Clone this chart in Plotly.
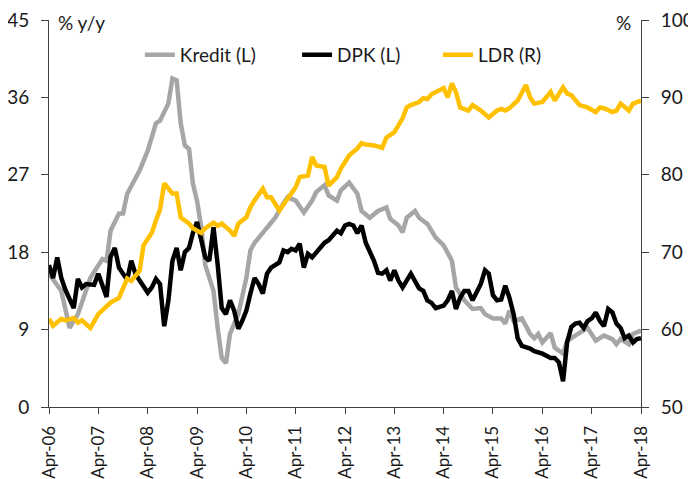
import plotly.graph_objects as go

# month offsets counted from Apr-2006
kredit_m = [0, 3, 5, 7, 10, 13, 14, 15, 17, 18, 19, 22, 24, 26, 27, 29, 30, 31, 32, 33, 34, 35, 36, 37, 38,
            40, 41, 42, 43, 44, 45, 46, 48, 49, 50, 52, 54, 55, 57, 58, 60, 62, 64, 65, 67, 68, 70, 71, 73,
            75, 76, 78, 80, 82, 83, 85, 86, 87, 89, 90, 92, 94, 96, 98, 99, 101, 103, 105, 106, 108, 110,
            111, 112, 113, 115, 117, 118, 119, 120, 122, 123, 125, 126, 127, 129, 131, 133, 135, 137, 138,
            139, 141, 142, 144]
kredit_v = [15.5, 13.5, 9.2, 10.8, 15.0, 17.2, 17.0, 20.5, 22.5, 22.5, 24.8, 27.5, 29.8, 33.0, 33.3, 35.3,
            38.2, 38.0, 33.0, 30.4, 30.0, 26.0, 24.0, 21.0, 16.5,
            13.5, 9.2, 5.7, 5.1, 8.5, 9.7, 10.8, 15.0, 18.2, 19.1, 20.2, 21.3, 22.0, 23.7, 24.4, 24.0, 22.6,
            24.0, 25.0, 25.8, 24.6, 24.0, 25.2, 26.1,
            24.8, 22.8, 22.0, 22.8, 23.2, 21.9, 21.1, 20.3, 22.0, 22.8, 22.0, 21.3, 19.7, 18.8, 17.0, 13.9,
            12.4, 11.4, 11.5, 10.8, 10.3, 10.3,
            9.7, 11.2, 10.0, 10.3, 8.5, 8.0, 8.5, 7.5, 8.6, 6.9, 6.2, 7.7, 8.0, 8.6, 9.2, 7.7, 8.3, 7.9, 7.3,
            7.9, 7.3, 8.5, 8.9]

dpk_m = [0, 1, 2, 3, 4, 5, 6, 7, 8, 9, 10, 11, 12, 13, 14, 15, 16, 17, 19, 20, 21, 22, 24, 25, 26, 27, 28,
         29, 30, 31, 32, 33, 34, 35, 36, 37, 38, 39, 40, 41, 42, 43, 44, 45, 46, 47, 48, 49, 50, 51, 52, 53,
         54, 56, 57, 58, 59, 60, 61, 62, 63, 64, 66, 67, 68, 69, 70, 71, 72, 73, 74, 75, 76, 77, 78, 79, 80,
         81, 82, 83, 84, 85, 86, 87, 88, 90, 91, 92, 93, 94, 96, 97, 98, 99, 100, 101, 102, 103, 105, 106,
         107, 108, 109, 110, 111, 112, 113, 114, 115, 117, 118, 120, 122, 123, 124, 125, 126, 127, 128, 129,
         130, 131, 132, 133, 134, 135, 136, 137, 138, 139, 140, 141, 142, 143, 144]
dpk_v = [16.5, 15.0, 17.4, 15.0, 13.6, 12.5, 11.5, 14.9, 13.9, 14.3, 14.3, 14.2, 15.5, 14.0, 12.8, 17.5,
         18.5, 16.2, 14.8, 17.0, 15.5, 14.7, 13.3, 13.9, 14.9, 14.3, 9.4,
         12.4, 17.0, 18.5, 15.9, 18.0, 18.5, 20.2, 21.5, 19.5, 17.4, 17.0, 20.9, 16.5, 11.5, 10.8, 12.4,
         11.2, 9.1, 10.0, 11.2, 13.2, 15.0, 14.3, 13.2, 15.5,
         16.2, 16.8, 18.2, 18.0, 18.4, 18.2, 19.0, 16.2, 17.8, 17.4, 18.5, 19.1, 19.4, 20.0, 20.5, 20.2,
         21.1, 21.3, 21.1, 20.2, 21.1, 19.1, 18.2, 17.0, 15.6,
         15.5, 15.9, 14.7, 15.9, 14.7, 13.9, 14.7, 15.5, 13.8, 13.5, 12.4, 12.1, 11.5, 11.8, 12.4, 13.5,
         11.4, 12.7, 13.5, 13.5, 12.4, 14.3, 15.9,
         15.5, 13.0, 12.4, 12.5, 14.1, 12.7, 10.8, 8.0, 7.1, 6.8, 6.5, 6.2, 5.7, 5.7, 5.2, 3.0, 7.5, 9.3,
         9.7, 9.8,
         9.2, 10.0, 10.3, 11.0, 10.0, 9.4, 11.4, 11.0, 9.7, 9.2, 8.0, 8.3, 7.5, 7.9, 8.0]

ldr_m = [0, 1, 3, 4, 6, 7, 8, 10, 12, 14, 15, 17, 18, 19, 20, 22, 23, 25, 26, 27, 28, 30, 31, 32, 34, 35,
         37, 38, 40, 41, 42, 44, 45, 46, 48, 49, 50, 52, 53, 54, 56, 58, 59, 60, 61, 63, 64, 65, 67, 68,
         70, 71, 72, 73, 75, 76, 77, 79, 81, 82, 84, 86, 87, 88, 90, 91, 92, 93, 94, 96, 97, 98, 99, 100,
         102, 103, 105, 107, 109, 110, 111, 112, 114, 115, 116, 117, 118, 120, 122, 123, 125, 126, 127,
         129, 131, 133, 134, 135, 137, 138, 139, 141, 142, 144]
ldr_v = [61.4, 60.5, 61.4, 61.2, 61.5, 60.9, 61.2, 60.2, 62.0, 63.1, 63.5, 64.1, 65.4, 66.6, 66.3, 67.6,
         70.9, 72.5, 74.1, 75.5, 78.9, 77.6, 77.6, 74.5, 73.7, 73.1,
         72.5, 73.1, 73.8, 73.4, 73.7, 72.8, 72.1, 73.7, 74.5, 75.8, 76.7, 78.2, 77.1, 77.1, 75.4, 77.1,
         77.6, 78.4, 79.7, 79.9, 82.3, 81.2, 81.0, 78.6,
         79.7, 80.8, 81.8, 82.5, 83.4, 84.1, 83.9, 83.8, 83.5, 84.8, 85.5, 87.3, 88.7, 89.0, 89.4, 89.9,
         89.8, 90.4, 90.7, 91.2, 90.0, 91.8, 90.7, 88.7,
         88.3, 89.0, 88.3, 87.4, 88.3, 88.5, 88.3, 88.6, 89.6, 90.5, 91.6, 90.0, 89.2, 89.4, 90.7, 89.6,
         91.3, 90.5, 90.3,
         89.0, 88.7, 88.1, 88.7, 88.6, 88.1, 88.3, 89.2, 88.3, 89.2, 89.6]

tick_years = list(range(2006, 2019))
tick_text = ["Apr-%02d" % (y % 100) for y in tick_years]


def to_dates(months):
    out = []
    for m in months:
        k = 3 + m
        out.append("%d-%02d-01" % (2006 + k // 12, k % 12 + 1))
    return out


FONT = "Lato"
fig = go.Figure()
fig.add_trace(go.Scatter(x=to_dates(kredit_m), y=kredit_v, name="Kredit (L)", mode="lines",
                         legend="legend", line=dict(color="#A6A6A6", width=4.5)))
fig.add_trace(go.Scatter(x=to_dates(dpk_m), y=dpk_v, name="DPK (L)", mode="lines",
                         legend="legend2", line=dict(color="#000000", width=4.5)))
fig.add_trace(go.Scatter(x=to_dates(ldr_m), y=ldr_v, name="LDR (R)", mode="lines", yaxis="y2",
                         legend="legend3", line=dict(color="#FFC000", width=4.5)))

axis_color = "#404040"


def leg(x):
    return dict(orientation="h", x=x, xanchor="left", y=0.91, yanchor="middle",
                bgcolor="rgba(0,0,0,0)", font=dict(family=FONT, size=19))


fig.update_layout(
    width=688, height=471,
    margin=dict(l=41, r=55, t=12, b=72, autoexpand=False),
    paper_bgcolor="white", plot_bgcolor="white",
    font=dict(family=FONT, size=19, color="#1a1a1a"),
    showlegend=True,
    legend=leg(0.1535), legend2=leg(0.419), legend3=leg(0.657),
    xaxis=dict(type="date", range=["2006-04-01", "2018-04-01"], automargin=False,
               tickvals=["%d-04-01" % y for y in tick_years], ticktext=tick_text,
               tickangle=-90, ticks="outside", ticklen=6, tickcolor=axis_color,
               ticklabelstandoff=5, ticklabeloverflow="allow",
               showline=True, linecolor=axis_color, linewidth=1, showgrid=False, zeroline=False,
               tickfont=dict(family=FONT, size=17)),
    yaxis=dict(range=[0, 45], tickvals=[0, 9, 18, 27, 36, 45], ticks="outside", ticklen=7,
               automargin=False, ticklabelstandoff=8, ticklabeloverflow="allow",
               tickcolor=axis_color, showline=True, linecolor=axis_color, linewidth=1,
               showgrid=False, zeroline=False, tickfont=dict(family=FONT, size=19)),
    yaxis2=dict(range=[50, 100], tickvals=[50, 60, 70, 80, 90, 100], overlaying="y", side="right",
                automargin=False, ticklabelstandoff=8, ticklabeloverflow="allow",
                ticks="outside", ticklen=7, tickcolor=axis_color, showline=True,
                linecolor=axis_color, linewidth=1, showgrid=False, zeroline=False,
                tickfont=dict(family=FONT, size=19)),
    annotations=[
        dict(text="% y/y", xref="paper", yref="paper", x=0.0118, y=0.994, xanchor="left",
             yanchor="middle", showarrow=False, font=dict(family=FONT, size=19)),
        dict(text="%", xref="paper", yref="paper", x=0.986, y=0.994, xanchor="right",
             yanchor="middle", showarrow=False, font=dict(family=FONT, size=19)),
    ],
)

fig.write_html("out.html")
